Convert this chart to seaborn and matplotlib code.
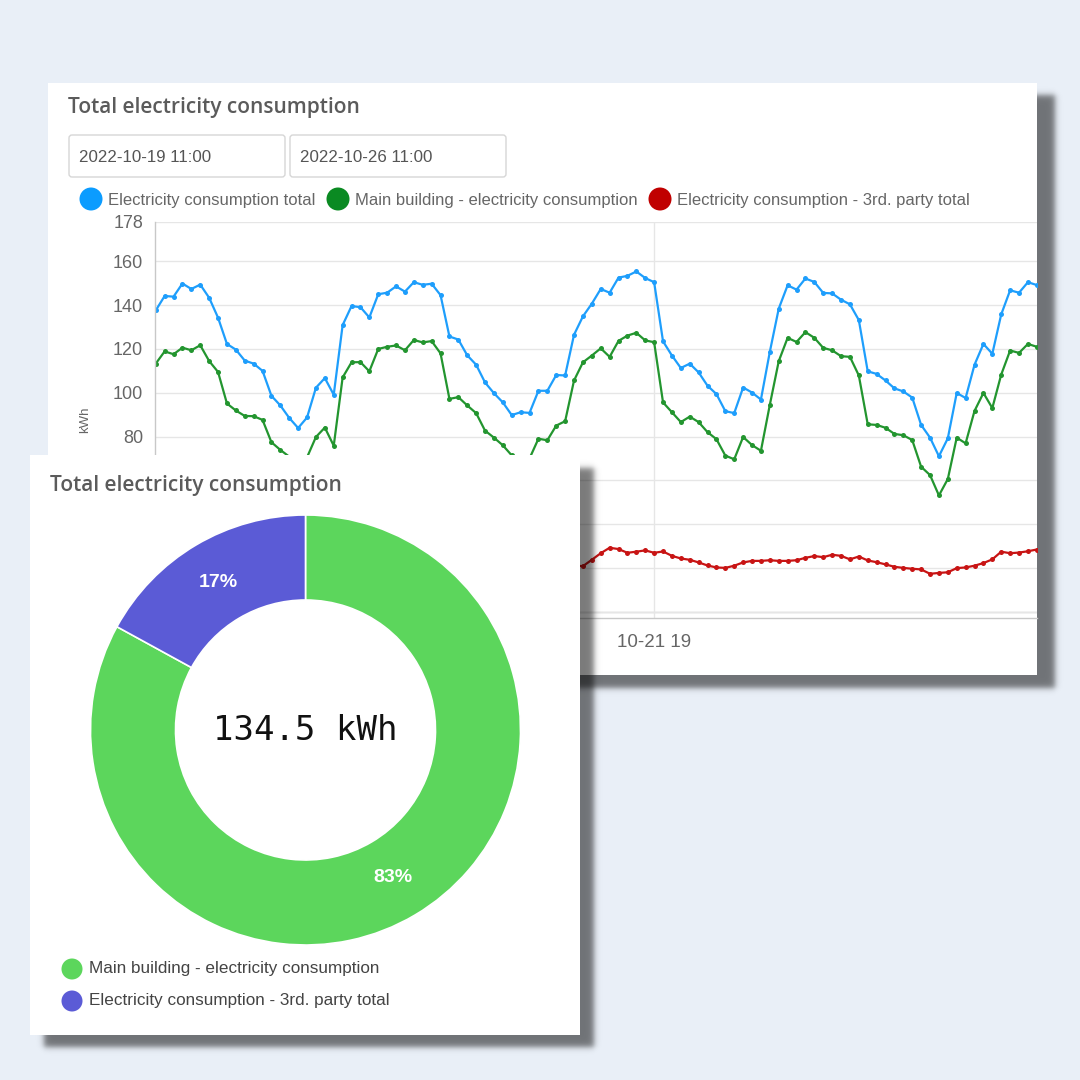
"""Total electricity consumption: hourly line chart card plus donut card."""

import numpy as np
import pandas as pd
import matplotlib
matplotlib.use("Agg")
import matplotlib.pyplot as plt
import seaborn as sns
from matplotlib.patches import Rectangle, Circle, FancyBboxPatch

# ---- data -------------------------------------------------------------
start_time = "2022-10-19 11:00"
end_time = "2022-10-26 11:00"
tick_time = "2022-10-21 19:00"
tick_label = "10-21 19"

series_names = [
    "Electricity consumption total",
    "Main building - electricity consumption",
    "Electricity consumption - 3rd. party total",
]

total_kwh = [
    137.6, 144.2, 143.9, 149.9, 147.4, 149.4, 143.4, 134.3, 122.3, 119.7,
    114.7, 113.3, 110.0, 98.6, 94.2, 88.5, 83.9, 88.7, 102.3, 106.7,
    99.1, 130.9, 139.6, 139.1, 134.4, 145.0, 145.7, 148.6, 146.2, 150.5,
    149.3, 149.8, 144.6, 125.7, 124.3, 117.1, 112.8, 104.7, 99.8, 95.6,
    89.8, 91.1, 90.8, 100.9, 100.9, 108.1, 107.9, 126.5, 134.9, 140.7,
    147.4, 145.7, 152.6, 153.4, 155.4, 152.4, 150.5, 123.5, 117.0, 111.3,
    113.3, 109.3, 103.2, 99.4, 91.6, 90.7, 102.4, 100.1, 96.9, 118.7,
    138.4, 149.1, 147.1, 152.2, 150.6, 145.6, 145.4, 142.5, 140.4, 133.2,
    109.8, 108.6, 105.6, 102.0, 100.6, 97.8, 85.3, 79.5, 71.0, 79.2,
    99.9, 97.6, 112.8, 122.3, 117.8, 135.8, 146.8, 145.7, 150.5, 149.2,
]
main_kwh = [
    113.3, 118.9, 117.6, 120.6, 119.4, 121.7, 114.5, 109.5, 95.1, 91.9,
    89.4, 89.3, 87.6, 77.4, 73.9, 70.8, 66.0, 70.5, 79.8, 84.1,
    75.8, 107.0, 113.9, 114.0, 109.8, 120.0, 121.0, 121.6, 119.4, 124.1,
    123.0, 123.6, 118.0, 97.2, 98.0, 94.2, 90.7, 82.7, 79.5, 76.0,
    71.4, 70.4, 70.0, 79.0, 78.3, 85.0, 87.0, 105.6, 113.9, 117.0,
    120.3, 116.4, 123.7, 126.1, 127.4, 123.9, 123.1, 95.6, 91.1, 86.6,
    89.1, 86.6, 82.0, 78.8, 71.3, 69.6, 79.8, 76.1, 73.5, 94.5,
    114.4, 125.1, 123.2, 127.7, 125.1, 120.5, 119.4, 116.7, 116.4, 107.9,
    85.6, 85.3, 84.0, 81.2, 80.6, 78.4, 66.2, 62.4, 53.1, 60.6,
    79.5, 76.9, 91.7, 99.9, 93.0, 108.3, 119.3, 118.2, 122.3, 121.0,
]
third_party_kwh = [
    24.5, 25.5, 26.5, 27.5, 28.0, 28.0, 28.5, 26.5, 27.0, 27.0,
    25.5, 24.0, 22.5, 21.0, 20.0, 18.5, 18.0, 18.0, 22.0, 22.5,
    23.0, 24.0, 25.0, 25.0, 24.5, 25.0, 25.0, 26.5, 27.0, 26.5,
    26.5, 26.0, 26.5, 27.0, 26.5, 23.5, 22.0, 21.5, 20.5, 19.5,
    18.5, 20.0, 20.5, 21.5, 22.0, 22.5, 21.5, 21.0, 20.8, 23.7,
    26.7, 29.2, 28.6, 26.9, 27.4, 28.0, 26.9, 27.5, 25.5, 24.3,
    23.7, 22.5, 21.1, 20.2, 20.0, 21.0, 22.5, 23.2, 23.2, 23.5,
    23.2, 23.2, 23.5, 24.6, 25.4, 24.9, 26.0, 25.5, 23.9, 25.2,
    23.4, 22.6, 21.6, 20.5, 20.0, 19.6, 19.3, 17.3, 17.7, 18.0,
    19.9, 20.2, 21.0, 22.2, 23.9, 27.4, 26.7, 27.0, 27.6, 28.4,
]

y_ticks = [0, 20, 40, 60, 80, 100, 120, 140, 160, 178]
# labels below 80 sit behind the donut card in the reference
y_tick_labels = ["", "", "", "", "80", "100", "120", "140", "160", "178"]

donut_labels = [
    "Main building - electricity consumption",
    "Electricity consumption - 3rd. party total",
]
donut_values = [111.6, 22.9]
donut_total_text = "134.5 kWh"

# ---- styling ----------------------------------------------------------
W = 1080
BG = "#e9eff7"
TITLE_COLOR = "#5b5b5b"
line_colors = dict(zip(series_names, ["#1e9efc", "#23952f", "#c81414"]))
legend_colors = ["#0b9cff", "#0a8a22", "#c00000"]
donut_colors = ["#5cd65c", "#5b5bd6"]

sns.set_theme(style="white")
plt.rcParams["font.family"] = ["Liberation Sans", "DejaVu Sans"]

fig = plt.figure(figsize=(10.8, 10.8), dpi=100)
fig.patch.set_facecolor(BG)


def px_axes(x0, y0, x1, y1, zorder):
    """Axes placed in pixel coordinates (y measured from the top)."""
    return fig.add_axes([x0 / W, 1 - y1 / W, (x1 - x0) / W, (y1 - y0) / W],
                        zorder=zorder)


def overlay(zorder):
    a = fig.add_axes([0, 0, 1, 1], zorder=zorder)
    a.set_xlim(0, W)
    a.set_ylim(W, 0)
    a.axis("off")
    a.patch.set_alpha(0)
    return a


def soft_shadow(a, x0, y0, x1, y1, blur=3.5, alpha=0.52):
    xs = np.arange(W) + 0.5
    fx = 0.5 * (np.tanh((xs - x0) / blur) - np.tanh((xs - x1) / blur))
    fy = 0.5 * (np.tanh((xs - y0) / blur) - np.tanh((xs - y1) / blur))
    img = np.zeros((W, W, 4))
    img[..., 3] = np.outer(fy, fx) * alpha
    a.imshow(img, extent=(0, W, W, 0), interpolation="bilinear", zorder=0)
    a.set_xlim(0, W)
    a.set_ylim(W, 0)


# ---- line chart card (background layer) -------------------------------
bg = overlay(0)
soft_shadow(bg, 60, 95, 1055, 688)
bg.add_patch(Rectangle((48, 83), 989, 592, fc="white", ec="none", zorder=1))
bg.text(68, 107, "Total electricity consumption", family="Open Sans",
        weight=600, fontsize=15, color=TITLE_COLOR, va="center", zorder=2)

for bx, txt in [(69, start_time), (290, end_time)]:
    bg.add_patch(FancyBboxPatch((bx, 135), 216, 42,
                                boxstyle="round,pad=0,rounding_size=3",
                                fc="white", ec="#d6d6d6", lw=1, zorder=2))
    bg.text(bx + 10, 157, txt, fontsize=12.2, color="#555555", va="center",
            zorder=3)

for cx, name, col in zip([91, 338, 660], series_names, legend_colors):
    bg.add_patch(Circle((cx, 199), 11.5, fc=col, ec="none", zorder=2))
    bg.text(cx + 17, 200, name, fontsize=12, color="#666666", va="center",
            zorder=3)

times = pd.date_range(start_time, periods=len(total_kwh), freq="h")
df = pd.DataFrame({
    "time": np.tile(times, 3),
    "kWh": total_kwh + main_kwh + third_party_kwh,
    "series": np.repeat(series_names, len(times)),
})

ax = px_axes(155, 222, 1037, 617.7, zorder=1)
ax.patch.set_alpha(0)
sns.lineplot(data=df, x="time", y="kWh", hue="series", hue_order=series_names,
             palette=line_colors, marker="o", markersize=3.6,
             markeredgewidth=0, linewidth=1.6, legend=False, ax=ax)
ax.set_ylim(-2.75, 178)
ax.set_yticks(y_ticks)
ax.set_yticklabels(y_tick_labels)
ax.set_xlim(times[0] - pd.Timedelta(minutes=5),
            times[0] + pd.Timedelta(hours=99.02))
ax.set_xticks([pd.Timestamp(tick_time)])
ax.set_xticklabels([tick_label])
ax.grid(True, color="#e6e6e6", lw=1)
ax.axhline(0, color="#c9c9c9", lw=1, zorder=0.5)
for side in ["top", "right"]:
    ax.spines[side].set_visible(False)
for side in ["left", "bottom"]:
    ax.spines[side].set_color("#c8c8c8")
    ax.spines[side].set_linewidth(1)
ax.tick_params(axis="y", length=0, pad=8.6, labelsize=13, labelcolor="#666666")
ax.tick_params(axis="x", length=9, color="#e6e6e6", pad=3, labelsize=13.5,
               labelcolor="#666666")
ax.set_xlabel("")
ax.set_ylabel("kWh", fontsize=9.5, color="#666666")
ax.yaxis.set_label_coords(-0.0726, 0.5)

# ---- donut card (front layer) -----------------------------------------
top = overlay(2)
soft_shadow(top, 44, 468, 594, 1047)
top.add_patch(Rectangle((30, 455), 550, 580, fc="white", ec="none", zorder=1))
top.text(50, 485, "Total electricity consumption", family="Open Sans",
         weight=600, fontsize=15, color=TITLE_COLOR, va="center", zorder=2)
for cy, name, col in zip([969, 1001], donut_labels, donut_colors):
    top.add_patch(Circle((72, cy), 10.5, fc=col, ec="none", zorder=2))
    top.text(89, cy, name, fontsize=12.3, color="#444444", va="center",
             zorder=3)

R = 215
cx, cy = 305.5, 730
pax = px_axes(cx - R, cy - R, cx + R, cy + R, zorder=3)
pax.pie(donut_values, colors=donut_colors, startangle=90, counterclock=False,
        wedgeprops=dict(width=85 / R, edgecolor="white", linewidth=1.2),
        autopct="%1.0f%%", pctdistance=0.80,
        textprops=dict(color="white", fontsize=14, fontweight="bold"))
pax.set_xlim(-1, 1)
pax.set_ylim(-1, 1)
pax.set_aspect("equal")
pax.axis("off")
pax.text(0, 0, donut_total_text, family="DejaVu Sans Mono", fontsize=24.5,
         color="#111111", ha="center", va="center")

fig.savefig("out.png", dpi=100, facecolor=BG)
